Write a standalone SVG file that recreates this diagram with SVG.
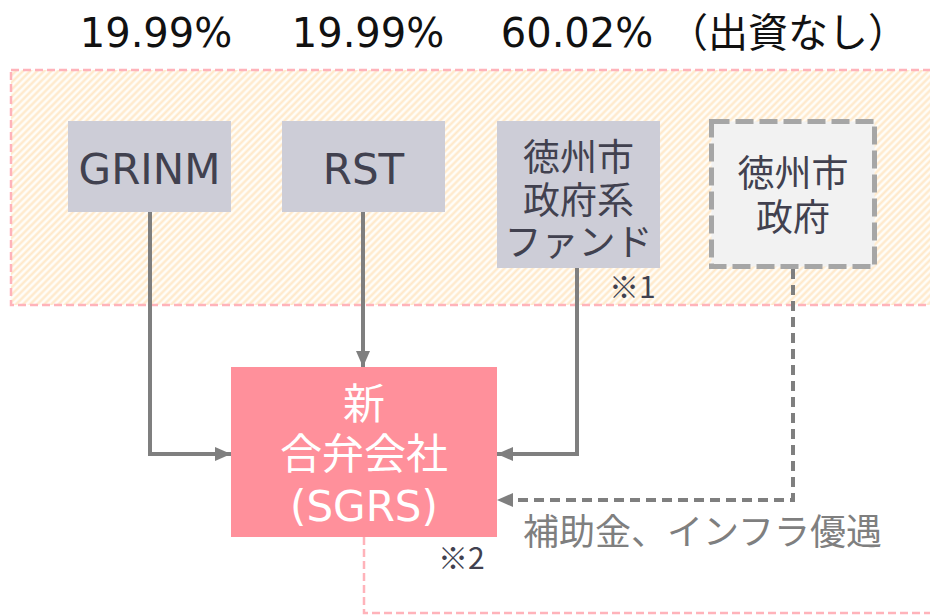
<svg xmlns="http://www.w3.org/2000/svg" width="930" height="616" viewBox="0 0 930 616">
  <defs>
    <pattern id="hatch" patternUnits="userSpaceOnUse" width="5" height="5" patternTransform="rotate(45)">
      <rect width="5" height="5" fill="#FFFDF8"/>
      <line x1="1.5" y1="0" x2="1.5" y2="5" stroke="#FFE8C8" stroke-width="2.2"/>
    </pattern>
    <marker id="arrow" markerUnits="userSpaceOnUse" markerWidth="16" markerHeight="14" refX="16" refY="7" orient="auto">
      <path d="M0,0 L16,7 L0,14 Z" fill="#7F7F7F"/>
    </marker>
    <style>
      .t { font-family: "DejaVu Sans", "Noto Sans CJK JP", sans-serif; }
      .node { fill: #CDCDD7; }
      .ntext { fill: #41414F; font-size: 42px; text-anchor: middle; }
      .jtext { fill: #41414F; font-size: 37px; text-anchor: middle; font-family: "Noto Sans CJK JP", sans-serif; }
      .pct { fill: #111111; font-size: 40px; text-anchor: middle; }
      .note { fill: #41414F; font-size: 30px; font-family: "Noto Sans CJK JP", "DejaVu Sans", sans-serif; }
      .conn { fill: none; stroke: #7F7F7F; stroke-width: 4; }
      .region { stroke: #FFB3BA; stroke-width: 2.5; stroke-dasharray: 8 4; }
    </style>
  </defs>

  <rect width="930" height="616" fill="#FFFFFF"/>

  <!-- region -->
  <g id="region">
    <rect class="region" x="11" y="70" width="940" height="235" fill="url(#hatch)"/>
    <path class="region" d="M364,537 V613 H935" fill="none"/>
  </g>

  <!-- percentages -->
  <g id="percentages" class="t">
    <text class="pct" x="156" y="47">19.99%</text>
    <text class="pct" x="368" y="47">19.99%</text>
    <text class="pct" x="577" y="47">60.02%</text>
    <text class="pct" x="788" y="47" font-family="Noto Sans CJK JP, sans-serif">（出資なし）</text>
  </g>

  <!-- connectors -->
  <g id="connectors">
    <path class="conn" d="M150,212 V454 H231" marker-end="url(#arrow)"/>
    <path class="conn" d="M363,212 V367" marker-end="url(#arrow)"/>
    <path class="conn" d="M577,268 V454 H497" marker-end="url(#arrow)"/>
    <path class="conn" d="M793,269 V500 H497" stroke-dasharray="10 6" marker-end="url(#arrow)"/>
  </g>

  <g id="node-grinm" class="t">
    <rect class="node" x="68" y="121" width="163" height="91"/>
    <text class="ntext" x="149.5" y="184">GRINM</text>
  </g>

  <g id="node-rst" class="t">
    <rect class="node" x="282" y="121" width="163" height="91"/>
    <text class="ntext" x="363.5" y="184">RST</text>
  </g>

  <g id="node-fund">
    <rect class="node" x="497" y="121" width="163" height="147"/>
    <text class="jtext" x="578.5" y="171">徳州市<tspan x="578.5" dy="43">政府系</tspan><tspan x="578.5" dy="42">ファンド</tspan></text>
  </g>

  <g id="node-gov">
    <rect x="711.5" y="121.5" width="163" height="145" fill="#F2F2F2" stroke="#A6A6A6" stroke-width="5" stroke-dasharray="18 6"/>
    <text class="jtext" x="793" y="187">徳州市<tspan x="793" dy="44">政府</tspan></text>
  </g>

  <g id="node-sgrs" class="t">
    <rect x="231" y="367" width="266" height="170" fill="#FF909B"/>
    <text x="364" y="419" fill="#FFFFFF" font-size="42" text-anchor="middle">新<tspan x="364" dy="50">合弁会社</tspan><tspan x="364" dy="52">(SGRS)</tspan></text>
  </g>

  <g id="labels">
    <text x="523" y="545" fill="#7F7F7F" font-size="36" font-family="Noto Sans CJK JP, sans-serif">補助金、インフラ優遇</text>
    <text class="note" x="609" y="298">※1</text>
    <text class="note" x="438" y="569">※2</text>
  </g>
</svg>
